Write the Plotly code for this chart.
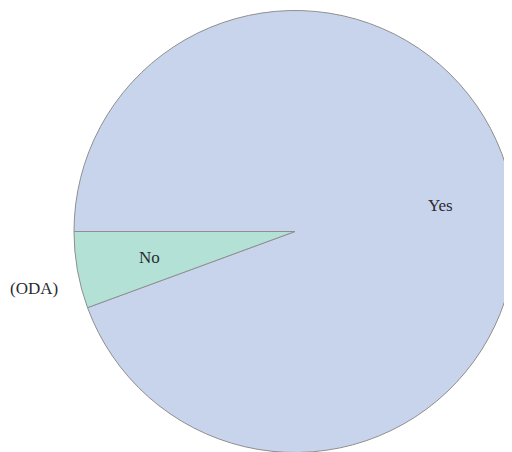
import math
import plotly.graph_objects as go

labels = ["Yes", "No"]
values = [94.4, 5.6]
colors = ["#c8d4ec", "#b3e1d5"]
side_label = "(ODA)"

W, H = 512, 452
OFF = 8  # page body margin offset

# pie geometry in figure pixels
R = 221
CX = 295 - OFF
CY = 231.5 - OFF

fig = go.Figure(go.Pie(
    labels=labels,
    values=values,
    sort=False,
    direction="clockwise",
    rotation=270,
    marker=dict(colors=colors, line=dict(color="#8f8f8f", width=1)),
    textinfo="none",
    hoverinfo="label+percent",
    domain=dict(x=[(CX - R) / W, (CX + R) / W], y=[1 - (CY + R) / H, 1 - (CY - R) / H]),
    showlegend=False,
))

# slice labels at the middle angle of each slice, at 0.67 of the radius
total = sum(values)
start = 180.0  # degrees, maths convention (9 o'clock); clockwise on screen = decreasing angle
for lab, v in zip(labels, values):
    span = 360.0 * v / total
    mid = math.radians(start - span / 2)
    xp = CX + 0.67 * R * math.cos(mid)
    yp = CY - 0.67 * R * math.sin(mid)
    fig.add_annotation(
        x=xp / W, y=1 - yp / H, xref="paper", yref="paper",
        xanchor="center", yanchor="middle",
        text=lab, showarrow=False,
        font=dict(family="Liberation Serif", size=17, color="#2b2b33"),
    )
    start -= span

fig.add_annotation(
    x=(34 - OFF) / W, y=1 - (288 - OFF) / H, xref="paper", yref="paper",
    xanchor="center", yanchor="middle",
    text=side_label, showarrow=False,
    font=dict(family="Liberation Serif", size=17, color="#2b2b33"),
)

fig.update_layout(
    width=W, height=H,
    margin=dict(l=0, r=0, t=0, b=0),
    paper_bgcolor="white",
    plot_bgcolor="white",
)

fig.write_html("out.html")
